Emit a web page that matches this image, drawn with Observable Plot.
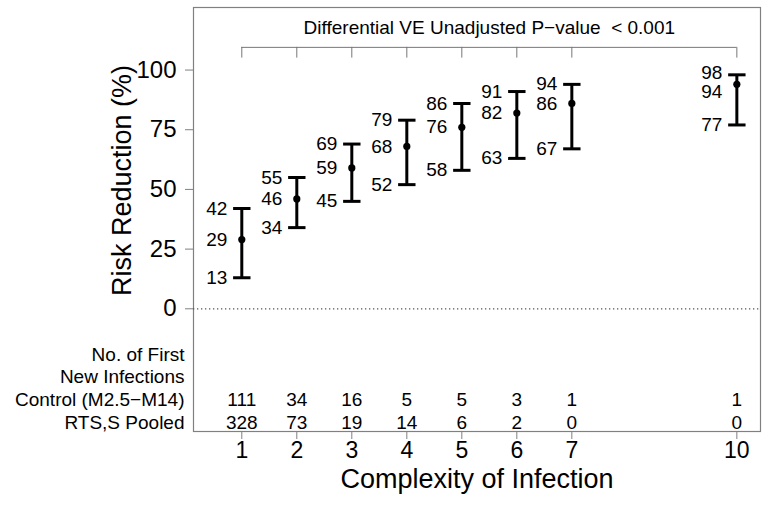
<!DOCTYPE html>
<html>
<head>
<meta charset="utf-8">
<script src="https://cdn.jsdelivr.net/npm/d3@7"></script>
<script src="https://cdn.jsdelivr.net/npm/@observablehq/plot@0.6"></script>
<style>
  html, body { margin: 0; padding: 0; background: #fff; }
</style>
</head>
<body>
<div id="chart"></div>
<script>
// ---- data ----
const coi = [1, 2, 3, 4, 5, 6, 7, 10];
const estimate = [29, 46, 59, 68, 76, 82, 86, 94];
const lower = [13, 34, 45, 52, 58, 63, 67, 77];
const upper = [42, 55, 69, 79, 86, 91, 94, 98];
const controlCounts = [111, 34, 16, 5, 5, 3, 1, 1];
const rtssCounts = [328, 73, 19, 14, 6, 2, 0, 0];
const yTicks = [0, 25, 50, 75, 100];
const rowLabels = ["No. of First", "New Infections", "Control (M2.5\u2212M14)", "RTS,S Pooled"];
const bracketText = "Differential VE Unadjusted P\u2212value \u00a0< 0.001";
const bracketLevel = 109.5;
const bracketTickEnd = 105;
const bracketTextLevel = 117.8;
const xLabel = "Complexity of Infection";
const yLabel = "Risk Reduction (%)";

// ---- layout ----
const W = 764, H = 507;
const mL = 193, mR = 4, mT = 7, mB = 76;
const yDomain = [-51.4, 126.2];
const pxPerUnit = (H - mT - mB) / (yDomain[1] - yDomain[0]);

const data = coi.map((c, i) => {
  const gap = (upper[i] - estimate[i]) * pxPerUnit;
  const deficit = Math.max(0, 19 - gap);
  return {
    coi: c, est: estimate[i], lo: lower[i], hi: upper[i],
    dyHi: -deficit * 0.25, dyEst: deficit * 0.75,
    counts: controlCounts[i] + "\n" + rtssCounts[i]
  };
});

const capSymbol = {
  draw(context, size) {
    const r = Math.sqrt(size / Math.PI);
    context.moveTo(-r, 0);
    context.lineTo(r, 0);
  }
};

const font = "'Liberation Sans', Arial, Helvetica, sans-serif";
const frameGray = "#808080";
const labelSize = 19;

const shiftedHi = data.filter(d => d.dyHi !== 0);
const shiftedEst = data.filter(d => d.dyEst !== 0);

const chart = Plot.plot({
  width: W, height: H,
  marginLeft: mL, marginRight: mR, marginTop: mT, marginBottom: mB,
  style: { fontFamily: font, background: "#fff", color: "black" },
  x: { type: "linear", domain: [0.122, 10.43] },
  y: { domain: yDomain },
  marks: [
    Plot.frame({ stroke: frameGray, strokeWidth: 1.2 }),
    Plot.ruleY([0], { stroke: "#555", strokeWidth: 1.3, strokeDasharray: "1.3,2.7" }),
    Plot.axisY({ ticks: yTicks, tickSize: 8, tickPadding: 9, fontSize: 24, stroke: frameGray, fill: "black", label: null }),
    Plot.axisX({ ticks: coi, tickSize: 8, tickPadding: 2, fontSize: 23, stroke: frameGray, fill: "black", label: null }),
    // bracket
    Plot.ruleY([bracketLevel], { x1: coi[0], x2: coi[coi.length - 1], stroke: "#777", strokeWidth: 1 }),
    Plot.ruleX(coi, { x: d => d, y1: bracketTickEnd, y2: bracketLevel, stroke: "#777", strokeWidth: 1 }),
    Plot.text([bracketText], { x: (coi[0] + coi[coi.length - 1]) / 2, y: bracketTextLevel, text: d => d, fontSize: labelSize, fill: "black" }),
    // error bars
    Plot.ruleX(data, { x: "coi", y1: "lo", y2: "hi", stroke: "black", strokeWidth: 3 }),
    Plot.dot(data, { x: "coi", y: "hi", symbol: capSymbol, r: 8.7, stroke: "black", strokeWidth: 3, fill: "none" }),
    Plot.dot(data, { x: "coi", y: "lo", symbol: capSymbol, r: 8.7, stroke: "black", strokeWidth: 3, fill: "none" }),
    Plot.dot(data, { x: "coi", y: "est", r: 3.6, fill: "black", stroke: "none" }),
    // value labels
    Plot.text(data.filter(d => d.dyHi === 0), { x: "coi", y: "hi", text: d => String(d.hi), textAnchor: "end", dx: -14.5, fontSize: labelSize }),
    Plot.text(shiftedHi, { x: "coi", y: "hi", text: d => String(d.hi), textAnchor: "end", dx: -14.5, dy: shiftedHi.length ? shiftedHi[0].dyHi : 0, fontSize: labelSize }),
    Plot.text(data.filter(d => d.dyEst === 0), { x: "coi", y: "est", text: d => String(d.est), textAnchor: "end", dx: -14.5, fontSize: labelSize }),
    Plot.text(shiftedEst, { x: "coi", y: "est", text: d => String(d.est), textAnchor: "end", dx: -14.5, dy: shiftedEst.length ? shiftedEst[0].dyEst : 0, fontSize: labelSize }),
    Plot.text(data, { x: "coi", y: "lo", text: d => String(d.lo), textAnchor: "end", dx: -14.5, dy: 0, fontSize: labelSize }),
    // table of counts
    Plot.text(data, { x: "coi", frameAnchor: "bottom", text: "counts", lineAnchor: "middle", lineHeight: 1.195, dy: -21.3, fontSize: labelSize }),
    Plot.text([rowLabels.join("\n")], { frameAnchor: "bottom-left", text: d => d, textAnchor: "end", lineAnchor: "middle", lineHeight: 1.195, dx: -9, dy: -44, fontSize: labelSize }),
    // axis titles
    Plot.text([xLabel], { frameAnchor: "bottom", text: d => d, textAnchor: "middle", dy: 56, fontSize: 27 }),
    Plot.text([yLabel], { frameAnchor: "left", text: d => d, textAnchor: "middle", rotate: -90, dx: -71, dy: -39, fontSize: 27 })
  ]
});

document.getElementById("chart").appendChild(chart);
</script>
</body>
</html>
